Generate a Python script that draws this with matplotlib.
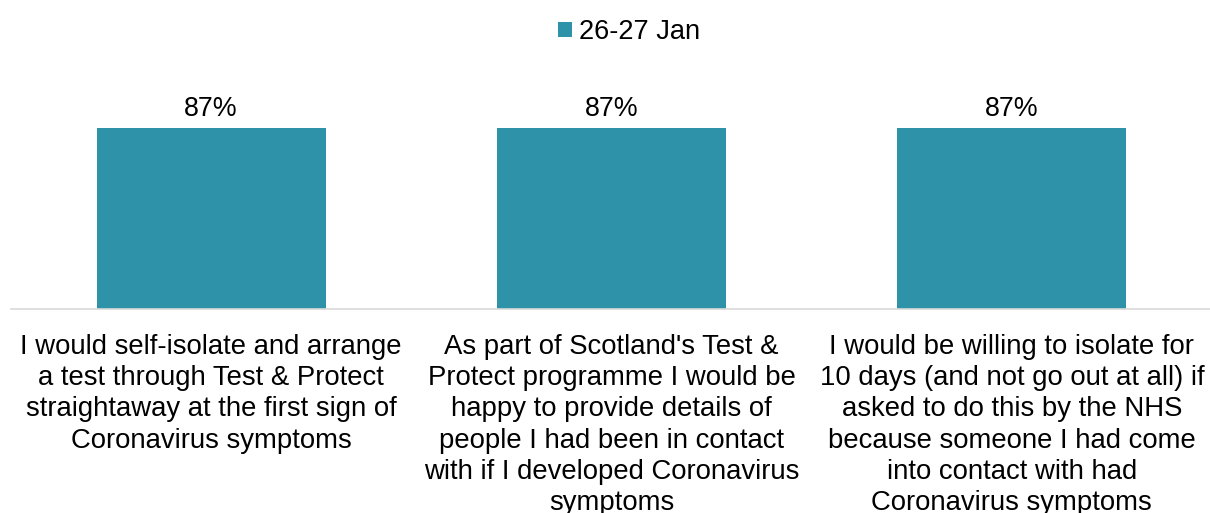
import matplotlib.pyplot as plt

# Survey statements and share agreeing
statements = [
    "I would self-isolate and arrange\na test through Test & Protect\nstraightaway at the first sign of\nCoronavirus symptoms",
    "As part of Scotland's Test &\nProtect programme I would be\nhappy to provide details of\npeople I had been in contact\nwith if I developed Coronavirus\nsymptoms",
    "I would be willing to isolate for\n10 days (and not go out at all) if\nasked to do this by the NHS\nbecause someone I had come\ninto contact with had\nCoronavirus symptoms",
]
values = [87, 87, 87]
series_name = "26-27 Jan"

plt.rcParams['font.family'] = ['Liberation Sans', 'DejaVu Sans']

fig = plt.figure(figsize=(12.1, 5.13), dpi=100)
ax = fig.add_axes([11 / 1210, 1 - 309 / 513, 1201 / 1210, 208 / 513])

bars = ax.bar(range(len(values)), values, width=0.572, color="#2E93A8", label=series_name)
ax.bar_label(bars, labels=[f"{v}%" for v in values], padding=4, fontsize=19.3)

ax.set_xlim(-0.5, len(values) - 0.5)
ax.set_ylim(0, 100)
ax.set_yticks([])
ax.set_xticks(range(len(values)))
labels = ax.set_xticklabels(statements, fontsize=19.8, linespacing=1.26, va="top")
ax.tick_params(axis="x", length=0, pad=18)

for side in ["top", "right", "left"]:
    ax.spines[side].set_visible(False)
ax.spines["bottom"].set_color("#D9D9D9")
ax.spines["bottom"].set_linewidth(1.2)

fig.legend(loc="upper center", bbox_to_anchor=(0.52, 1.0), frameon=False, fontsize=19.6,
           handlelength=0.5, handleheight=0.5, handletextpad=0.28, borderaxespad=0.3)

fig.savefig("out.png", dpi=100)
